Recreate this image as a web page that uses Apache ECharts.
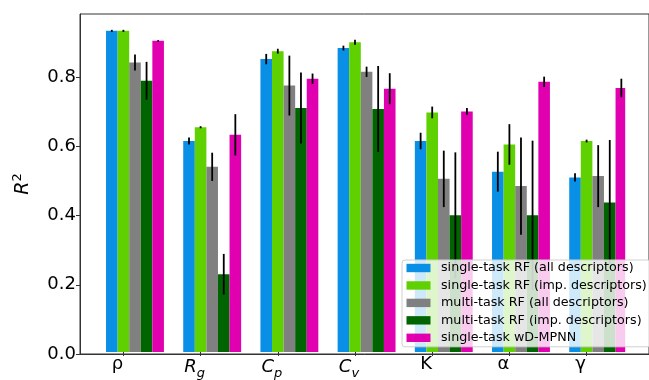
<!DOCTYPE html>
<html><head><meta charset="utf-8">
<script src="https://cdn.jsdelivr.net/npm/echarts@6/dist/echarts.min.js"></script>
<style>html,body{margin:0;padding:0;background:#fff}#c{width:649px;height:380px}</style>
</head><body><div id="c"></div>
<script>
const categories = ['ρ', 'R_g', 'C_p', 'C_v', 'K', 'α', 'γ'];
const seriesNames = [
  'single-task RF (all descriptors)',
  'single-task RF (imp. descriptors)',
  'multi-task RF (all descriptors)',
  'multi-task RF (imp. descriptors)',
  'single-task wD-MPNN'
];
const stRFall     = [0.933, 0.613, 0.851, 0.883, 0.613, 0.524, 0.507];
const stRFallErr  = [0.003, 0.010, 0.015, 0.007, 0.024, 0.058, 0.012];
const stRFimp     = [0.933, 0.653, 0.874, 0.900, 0.696, 0.603, 0.613];
const stRFimpErr  = [0.003, 0.003, 0.007, 0.007, 0.017, 0.059, 0.004];
const mtRFall     = [0.841, 0.538, 0.774, 0.814, 0.503, 0.482, 0.511];
const mtRFallErr  = [0.023, 0.041, 0.087, 0.015, 0.082, 0.141, 0.090];
const mtRFimp     = [0.788, 0.226, 0.709, 0.706, 0.397, 0.397, 0.434];
const mtRFimpErr  = [0.055, 0.059, 0.103, 0.125, 0.183, 0.217, 0.182];
const wdMPNN      = [0.904, 0.631, 0.794, 0.765, 0.699, 0.785, 0.767];
const wdMPNNErr   = [0.002, 0.060, 0.015, 0.045, 0.010, 0.015, 0.027];
const yTicks = [0, 0.2, 0.4, 0.6, 0.8];

const values = [stRFall, stRFimp, mtRFall, mtRFimp, wdMPNN];
const errors = [stRFallErr, stRFimpErr, mtRFallErr, mtRFimpErr, wdMPNNErr];
const colors = ['#0a8fe6', '#5fd100', '#808080', '#006400', '#e000b0'];

const BAR_FRAC = 0.15;
const FONT = 'DejaVu Sans';
const Y_MAX = 0.982;

function catLabel(s) {
  const p = s.split('_');
  if (p.length === 2) return '{i|' + p[0] + '}{sub|' + p[1] + '}';
  return '{n|' + s + '}';
}

const series = [];
// two empty padding slots so the tick sits on the second bar of each group
for (let k = 0; k < 2; k++) {
  series.push({ type: 'bar', name: '_pad' + k, data: categories.map(() => null),
    barWidth: (BAR_FRAC * 100) + '%', barGap: '0%', xAxisIndex: 0, yAxisIndex: 0, silent: true });
}
values.forEach((vals, k) => {
  series.push({ type: 'bar', name: seriesNames[k], data: vals, barWidth: (BAR_FRAC * 100) + '%', barGap: '0%',
    itemStyle: { color: colors[k] }, xAxisIndex: 0, yAxisIndex: 0, z: 2 });
});
values.forEach((vals, k) => {
  const slot = k - 1;
  series.push({
    type: 'custom', name: 'err' + k, xAxisIndex: 0, yAxisIndex: 0, z: 3, silent: true,
    data: vals.map((v, i) => [i, v, errors[k][i]]),
    encode: { x: 0, y: 1 },
    renderItem: function (params, api) {
      const ci = api.value(0), v = api.value(1), e = api.value(2);
      const band = api.size([1, 0])[0];
      const bw = band * BAR_FRAC;
      const x = api.coord([ci, v])[0] + slot * bw;
      const t = api.coord([ci, v + e])[1];
      const b = api.coord([ci, v - e])[1];
      return { type: 'line', shape: { x1: x, y1: t, x2: x, y2: b }, style: { stroke: '#000', lineWidth: 1.8 } };
    }
  });
});

const chart = echarts.init(document.getElementById('c'), null, { renderer: 'canvas' });
chart.setOption({
  animation: false,
  backgroundColor: '#fff',
  textStyle: { fontFamily: FONT },
  grid: [
    { left: 84.8, right: 23.8, top: 14, bottom: 26 },
    { left: 80, width: 575, top: 14, bottom: 26, show: true, borderColor: '#333', borderWidth: 1, backgroundColor: 'transparent' }
  ],
  xAxis: [
    { type: 'category', gridIndex: 0, data: categories, boundaryGap: true,
      axisLine: { show: false },
      axisTick: { show: true, alignWithLabel: true, interval: 0, length: 4, lineStyle: { color: '#333', width: 1 } },
      axisLabel: { interval: 0, color: '#000', fontSize: 18, margin: 3, padding: [0, 12, 0, 0],
        formatter: catLabel,
        rich: {
          n: { fontSize: 18, fontFamily: FONT, color: '#000' },
          i: { fontSize: 18, fontFamily: FONT, fontStyle: 'italic', color: '#000' },
          sub: { fontSize: 13, fontFamily: FONT, fontStyle: 'italic', color: '#000', padding: [12, 0, 0, 0] }
        } } },
    { type: 'value', gridIndex: 1, min: 0, max: 1, show: true, z: 10,
      axisLine: { show: true, lineStyle: { color: '#333', width: 1 } },
      axisTick: { show: false }, axisLabel: { show: false }, splitLine: { show: false } }
  ],
  yAxis: [
    { type: 'value', gridIndex: 0, min: 0, max: Y_MAX, show: false, splitLine: { show: false } },
    { type: 'value', gridIndex: 1, min: 0, max: Y_MAX, z: 10,
      axisLine: { show: true, lineStyle: { color: '#333', width: 1 } },
      axisTick: { show: true, length: 4, customValues: yTicks, lineStyle: { color: '#333' } },
      axisLabel: { customValues: yTicks, color: '#000', fontSize: 18, margin: 4,
        formatter: v => v.toFixed(1) },
      splitLine: { show: false },
      name: '{i|R}{sup|2}', nameLocation: 'middle', nameRotate: 90, nameGap: 44,
      nameTextStyle: { rich: {
        i: { fontSize: 19, fontFamily: FONT, fontStyle: 'italic', color: '#000' },
        sup: { fontSize: 13, fontFamily: FONT, color: '#000', padding: [0, 0, 12, 0] }
      } } }
  ],
  legend: {
    data: seriesNames, orient: 'vertical', left: 402, top: 260, z: 10,
    selectedMode: false, icon: 'rect', itemWidth: 24, itemHeight: 8.4, itemGap: 3.45,
    backgroundColor: 'rgba(255,255,255,0.8)', borderColor: '#d0d0d0', borderWidth: 1, borderRadius: 3,
    padding: [1, 4, 2, 4.5],
    formatter: name => '{t|' + name + '}',
    textStyle: { fontFamily: FONT, fontSize: 12.7, color: '#000', lineHeight: 14,
      rich: { t: { fontFamily: FONT, fontSize: 12.7, color: '#000', lineHeight: 14, padding: [0, 0, 0, 5.5] } } }
  },
  series: series
});
</script></body></html>
